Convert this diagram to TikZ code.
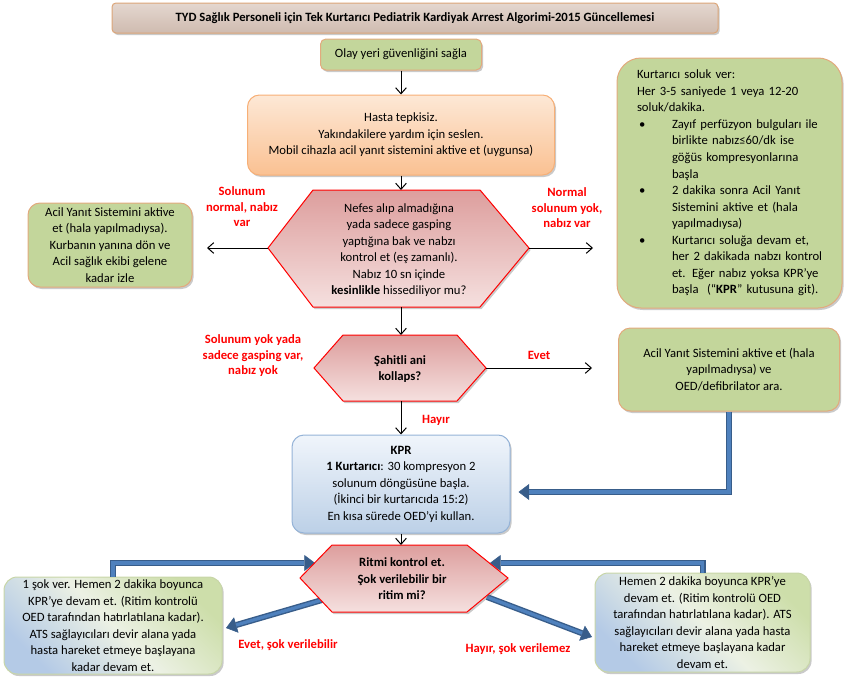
\documentclass[tikz,border=0pt]{standalone}
\usepackage{fontspec}
\setmainfont{Carlito}
\usetikzlibrary{arrows.meta,shadows,calc}
\definecolor{lblred}{RGB}{255,0,0}
\definecolor{grfill}{RGB}{195,214,155}
\definecolor{tanline}{RGB}{226,170,125}
\definecolor{ortop}{RGB}{253,232,214}
\definecolor{orbot}{RGB}{250,193,146}
\definecolor{orline}{RGB}{247,175,118}
\definecolor{ttop}{RGB}{228,215,207}
\definecolor{tbot}{RGB}{207,187,176}
\definecolor{tline}{RGB}{220,165,120}
\definecolor{hxtop}{RGB}{221,158,157}
\definecolor{hxbot}{RGB}{245,224,223}
\definecolor{kptop}{RGB}{240,245,251}
\definecolor{kpbot}{RGB}{188,208,231}
\definecolor{kpline}{RGB}{149,179,215}
\definecolor{bgreen}{RGB}{205,222,170}
\definecolor{bblue}{RGB}{180,202,230}
\definecolor{bmid}{RGB}{236,241,228}
\definecolor{bline}{RGB}{200,214,168}
\definecolor{blueout}{RGB}{56,93,138}
\definecolor{bluein}{RGB}{79,129,189}
\def\pxu{0.75pt}
\newcommand\bulline[1]{\makebox[26.25pt][l]{\hspace{1.5pt}\textbullet}\mbox{#1}}
\newcommand\indline[1]{\hspace*{26.25pt}\mbox{#1}}
\begin{document}
\begin{tikzpicture}[x=0.75pt,y=-0.75pt,
  base/.style={font=\fontsize{9.5}{12.4}\selectfont, align=center, inner sep=0pt},
  shad/.style={drop shadow={shadow xshift=1.2pt,shadow yshift=-1.5pt,opacity=0.35,fill=black!60}},
  boxb/.style={base, draw, line width=0.75pt, shad},
  titlebox/.style={boxb, draw=tline, top color=ttop, bottom color=tbot, rounded corners=3pt, font=\fontsize{9.5}{12.4}\selectfont\bfseries},
  greenbox/.style={boxb, draw=tanline, fill=grfill},
  orangebox/.style={boxb, draw=orline, top color=ortop, bottom color=orbot, rounded corners=9pt},
  kprbox/.style={boxb, draw=kpline, top color=kptop, bottom color=kpbot, rounded corners=9pt},
  mixbox/.style={boxb, draw=bline, top color=bgreen, bottom color=bblue, middle color=bmid, shading angle=-45, rounded corners=10pt},
  hexa/.style={draw=lblred, line width=0.75pt, top color=hxtop, bottom color=hxbot, shad},
  hextext/.style={base},
  arr/.style={draw=black, line width=0.75pt, -{Straight Barb[length=4.5pt,width=8pt]}},
  bluearr/.style={draw=blueout, line width=4.5pt, -{Triangle[length=8pt,width=12pt,line width=0.4pt]},
     postaction={draw=bluein, line width=2.4pt, -, shorten >=8pt}},
  lbl/.style={base, text=lblred, font=\fontsize{9.5}{11.6}\selectfont\bfseries}
]
\useasboundingbox (0,0) rectangle (854,678);

% title
\node[titlebox, minimum width=606*\pxu, minimum height=30*\pxu] (title) at (415,18)
  {TYD Sağlık Personeli için Tek Kurtarıcı Pediatrik Kardiyak Arrest Algorimi-2015 Güncellemesi};

% top column
\node[greenbox, rounded corners=4pt, minimum width=161*\pxu, minimum height=31*\pxu] (olay) at (401,54.5)
  {Olay yeri güvenliğini sağla};
\node[orangebox, minimum width=307*\pxu, minimum height=80*\pxu] (hasta) at (401,135)
  {Hasta tepkisiz.\\Yakındakilere yardım için seslen.\\Mobil cihazla acil yanıt sistemini aktive et (uygunsa)};

% hexagon 1
\path[hexa] (268,248) -- (313,190) -- (480,190) -- (529,248) -- (480,307) -- (313,307) -- cycle;
\coordinate (h1L) at (268,248);
\coordinate (h1R) at (529,248);
\coordinate (h1T) at (401,190);
\coordinate (h1B) at (401,307);
\node[hextext] (h1) at (399,250)
  {Nefes alıp almadığına\\yada sadece gasping\\yaptığına bak ve nabzı\\kontrol et (eş zamanlı).\\Nabız 10 sn içinde\\\textbf{kesinlikle} hissediliyor mu?};

% left green box
\node[greenbox, rounded corners=9pt, minimum width=164*\pxu, minimum height=84*\pxu] (lg) at (110,245)
  {Acil Yanıt Sistemini aktive\\et (hala yapılmadıysa).\\Kurbanın yanına dön ve\\Acil sağlık ekibi gelene\\kadar izle};

% right big box
\node[greenbox, rounded corners=18pt, minimum width=225*\pxu, minimum height=250*\pxu,
      text width=185*\pxu, align=left] (rb) at (729.5,183)
  {Kurtarıcı soluk ver:\\
   \makebox[138.75pt][s]{Her 3-5 saniyede 1 veya 12-20}\\
   soluk/dakika.\\
   \bulline{Zayıf perfüzyon bulguları ile}\\
   \indline{birlikte nabız≤60/dk ise}\\
   \indline{göğüs kompresyonlarına}\\
   \indline{başla}\\
   \bulline{2 dakika sonra Acil Yanıt}\\
   \indline{Sistemini aktive et (hala}\\
   \indline{yapılmadıysa)}\\
   \bulline{Kurtarıcı soluğa devam et,}\\
   \indline{her 2 dakikada nabzı kontrol}\\
   \indline{et. Eğer nabız yoksa KPR’ye}\\
   \indline{başla\ \ (“\textbf{KPR}” kutusuna git).}};

% hexagon 2
\path[hexa] (314,368) -- (343,335) -- (457,335) -- (486,368) -- (457,401) -- (343,401) -- cycle;
\coordinate (h2R) at (486,368);
\coordinate (h2T) at (401,335);
\coordinate (h2B) at (401,401);
\node[hextext, font=\fontsize{9.5}{12.4}\selectfont\bfseries] (h2) at (400,369) {Şahitli ani\\kollaps?};

% right box 2
\node[greenbox, rounded corners=9pt, minimum width=221*\pxu, minimum height=83*\pxu] (rb2) at (729,369.5)
  {Acil Yanıt Sistemini aktive et (hala\\yapılmadıysa) ve\\OED/defibrilator ara.};

% KPR box
\node[kprbox, minimum width=218*\pxu, minimum height=98*\pxu] (kpr) at (401,484)
  {\textbf{KPR}\\\textbf{1 Kurtarıcı}: 30 kompresyon 2\\solunum döngüsüne başla.\\(İkinci bir kurtarıcıda 15:2)\\En kısa sürede OED’yi kullan.};

% bottom boxes
\node[mixbox, minimum width=218*\pxu, minimum height=97*\pxu] (bl) at (113,625.5)
  {1 şok ver. Hemen 2 dakika boyunca\\KPR’ye devam et. (Ritim kontrolü\\OED tarafından hatırlatılana kadar).\\ATS sağlayıcıları devir alana yada\\hasta hareket etmeye başlayana\\kadar devam et.};
\node[mixbox, minimum width=215*\pxu, minimum height=99*\pxu] (br) at (702.5,622.5)
  {Hemen 2 dakika boyunca KPR’ye\\devam et. (Ritim kontrolü OED\\tarafından hatırlatılana kadar). ATS\\sağlayıcıları devir alana yada hasta\\hareket etmeye başlayana kadar\\devam et.};

% coordinates on hexagon 3
\coordinate (h3T) at (401,545);
\coordinate (h3ul) at (315,563);
\coordinate (h3ur) at (490,563);
\coordinate (h3ll) at (322,600);
\coordinate (h3lr) at (487,597);
\coordinate (blR) at (226,628);
\coordinate (brL) at (592,637);
\coordinate (kprR) at ($(kpr.east)+(8,8)$);

% blue connectors
\draw[bluearr] (rb2.south) |- (kprR);
\draw[bluearr] (bl.north) |- (h3ul);
\draw[bluearr] (br.north) |- (h3ur);
\draw[bluearr] (h3ll) -- (blR);
\draw[bluearr] (h3lr) -- (brL);

% hexagon 3
\path[hexa] (300,578) -- (332,545) -- (467,545) -- (508,578) -- (467,612) -- (332,612) -- cycle;
\node[hextext, font=\fontsize{9.5}{12.4}\selectfont\bfseries] (h3) at (402,579)
  {Ritmi kontrol et.\\Şok verilebilir bir\\ritim mi?};

% free ends of side arrows
\coordinate (h1Lend) at (207,248);
\coordinate (h1Rend) at (593,248);
\coordinate (h2Rend) at (592,368);

% black connectors
\draw[arr] (olay) -- (hasta);
\draw[arr] (hasta.south) -- (h1T);
\draw[arr] (h1B) -- (h2T);
\draw[arr] (h2B) -- (kpr.north);
\draw[arr] (kpr.south) -- (h3T);
\draw[arr] (h1L) -- (h1Lend);
\draw[arr] (h1R) -- (h1Rend);
\draw[arr] (h2R) -- (h2Rend);

% labels
\node[lbl] (l1) at (242,207) {Solunum\\normal, nabız\\var};
\node[lbl] (l2) at (567,208) {Normal\\solunum yok,\\nabız var};
\node[lbl] (l3) at (253,356) {Solunum yok yada\\sadece gasping var,\\nabız yok};
\node[lbl] (l4) at (539,355) {Evet};
\node[lbl] (l5) at (436,420) {Hayır};
\node[lbl] (l6) at (288,645) {Evet, şok verilebilir};
\node[lbl] (l7) at (518,649) {Hayır, şok verilemez};
\end{tikzpicture}
\end{document}
